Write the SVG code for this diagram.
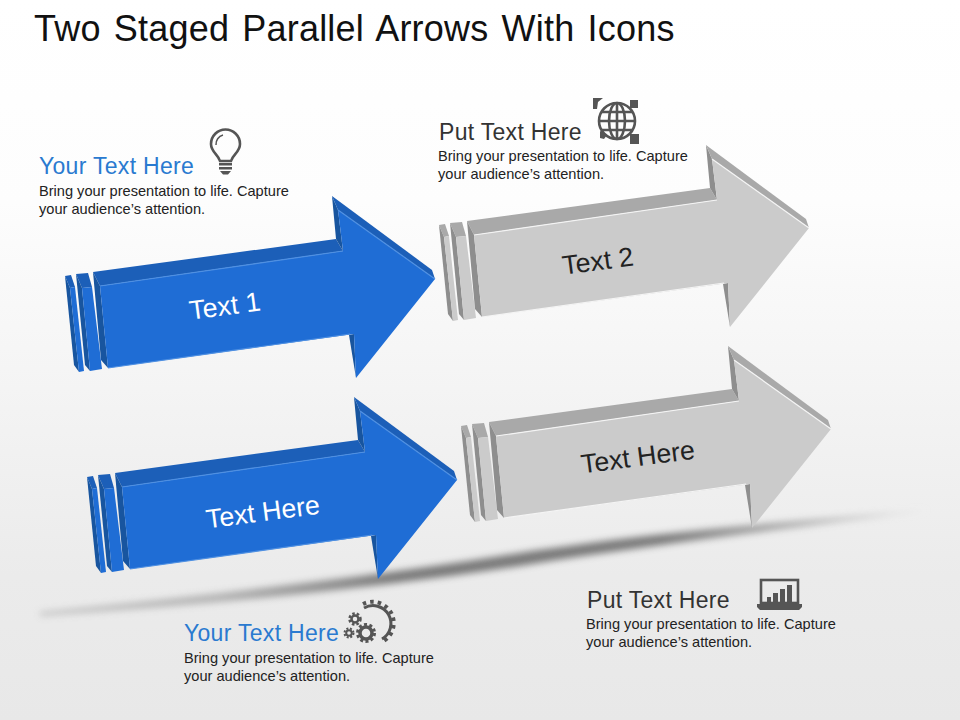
<svg xmlns="http://www.w3.org/2000/svg" width="960" height="720" viewBox="0 0 960 720">
<style>
text{font-family:"Liberation Sans",Arial,sans-serif}
.title{font-size:36px;fill:#111;letter-spacing:.2px;word-spacing:3px}
.h{font-size:23px;letter-spacing:.3px}
.blue{fill:#2a7ad0}
.dark{fill:#333}
.body{font-size:14.6px;fill:#222}
.lab{font-size:26.8px;text-anchor:middle}
.bl{--face:#1f6dd5;--top:#1c5fb8;--side:#18559f;--hi:#4f90e2}
.gr{--face:#cbcbcb;--top:#a9a9a9;--side:#8e8e8e;--hi:#f4f4f4}
.f{fill:var(--face)}.t{fill:var(--top)}.s{fill:var(--side)}
.e{fill:none;stroke:var(--hi);stroke-width:1.2}
.i{fill:none;stroke:#555;stroke-width:2.6}
.d{fill:#555}
</style>
<defs>
<linearGradient id="bg" x1="0" y1="0" x2="0" y2="1"><stop offset="0" stop-color="#fff"/><stop offset=".28" stop-color="#fdfdfd"/><stop offset=".8" stop-color="#ebebeb"/><stop offset="1" stop-color="#e8e8e8"/></linearGradient>
<linearGradient id="sh" x1="0" y1="0" x2="1" y2="0"><stop offset="0" stop-color="#bbb"/><stop offset=".2" stop-color="#aaa"/><stop offset=".4" stop-color="#666"/><stop offset=".7" stop-color="#666"/><stop offset=".9" stop-color="#bbb"/><stop offset="1" stop-color="#e4e4e4"/></linearGradient>
<filter id="blur" x="-5%" y="-100%" width="110%" height="300%"><feGaussianBlur stdDeviation="3.500"/></filter>
<g id="arrow">
<polygon class="t" points="65,276 71,275 75,287 70,288"/>
<polygon class="s" points="65,276 70,288 79,372 74,365"/>
<polygon class="f" points="70,288 75,287 84,371 79,372"/>
<polygon class="t" points="76,274 88,273 92,287 82,288"/>
<polygon class="s" points="76,274 82,288 90,371 85,365"/>
<polygon class="f" points="82,288 92,287 102,369 90,371"/>
<polygon class="t" points="93,272 336,239 343,251 100,286"/>
<polygon class="s" points="93,272 100,286 108,368 101,360"/>
<polygon class="s" points="332,196 338,210 343,251 336,239"/>
<polygon class="t" points="332,196 432,270 435,279 338,210"/>
<polygon class="s" points="349,335 354,334 356,378"/>
<polygon class="f" points="100,286 343,251 338,210 435,279 356,378 354,334 108,368"/>
<polyline class="e" points="100,286 343,251"/>
<polyline class="e" points="108,368 350,334"/>
<polyline class="e" points="338,210 435,279"/>
</g>
</defs>
<rect id="background" width="960" height="720" fill="url(#bg)"/>
<path id="shadow" d="M40 612C200 596 360 578 500 556C650 532 800 520 930 510C800 528 650 544 520 566C360 590 200 606 40 616Z" fill="url(#sh)" opacity=".85" filter="url(#blur)"/>
<text id="title" class="title" x="34" y="41">Two Staged Parallel Arrows With Icons</text>

<g id="arrow-1" class="bl"><use href="#arrow"/>
<text class="lab" fill="#fff" transform="translate(226 315) rotate(-7.500)">Text 1</text></g>
<g id="arrow-2" class="gr"><use href="#arrow" x="374" y="-51"/>
<text class="lab" fill="#222" transform="translate(599 270) rotate(-7.500)">Text 2</text></g>
<g id="arrow-3" class="bl"><use href="#arrow" x="22" y="201"/>
<text class="lab" fill="#fff" transform="translate(264 521) rotate(-7.500)">Text Here</text></g>
<g id="arrow-4" class="gr"><use href="#arrow" x="396" y="150"/>
<text class="lab" fill="#222" transform="translate(639 466) rotate(-7.500)">Text Here</text></g>

<g id="callout-1">
<text class="h blue" x="39" y="174">Your Text Here</text>
<text class="body" x="39" y="196">Bring your presentation to life. Capture</text>
<text class="body" x="39" y="214">your audience’s attention.</text>
<g id="icon-bulb">
<path class="i" d="M220 161C218 154 211 152 211 144A14.500 14.500 0 0 1 240 144C240 152 233 154 231 161Z"/>
<path class="i" style="stroke-width:1.500" d="M216 145A9.500 9.500 0 0 1 223 135"/>
<path class="d" d="M219 163h13v2.500h-13zM219 167h13v2.500h-13zM220 171h11l-3 3.500h-5z"/>
</g></g>

<g id="callout-2">
<text class="h dark" x="439" y="140">Put Text Here</text>
<text class="body" x="438" y="161">Bring your presentation to life. Capture</text>
<text class="body" x="438" y="179">your audience’s attention.</text>
<g id="icon-globe">
<circle class="i" cx="617" cy="121" r="18"/>
<ellipse class="i" cx="617" cy="121" rx="8" ry="18"/>
<path class="i" d="M617 103V139M599 121H635M602 112H632M602 130H632"/>
<path class="d" d="M593 98h10l-5 4-1 7h-4zM630 100h8v8h-8zM600 131l7 4-3 4-4-1zM630 134h9v10h-9z"/>
</g></g>

<g id="callout-3">
<text class="h blue" x="184" y="641">Your Text Here</text>
<text class="body" x="184" y="663">Bring your presentation to life. Capture</text>
<text class="body" x="184" y="681">your audience’s attention.</text>
<g id="icon-gears" fill="none" stroke="#555">
<path stroke-width="3" d="M364 608A16 16 0 1 1 382 639"/>
<path stroke-width="4" stroke-dasharray="3.500 4" d="M363 604A20 20 0 1 1 382 642"/>
<circle cx="366" cy="633" r="6" stroke-width="3.500"/>
<circle cx="366" cy="633" r="8.500" stroke-width="3" stroke-dasharray="3 2.400"/>
<circle cx="355" cy="619" r="3.500" stroke-width="2.500"/>
<circle cx="355" cy="619" r="5.500" stroke-width="2.500" stroke-dasharray="2.500 2"/>
<circle cx="349" cy="633" r="2.800" stroke-width="2"/>
<circle cx="349" cy="633" r="4.500" stroke-width="2" stroke-dasharray="2 1.600"/>
</g></g>

<g id="callout-4">
<text class="h dark" x="587" y="608">Put Text Here</text>
<text class="body" x="586" y="629">Bring your presentation to life. Capture</text>
<text class="body" x="586" y="647">your audience’s attention.</text>
<g id="icon-laptop">
<rect class="i" x="761" y="580" width="37" height="23"/>
<path class="d" d="M757 604H802V607L799 610H760L757 607ZM767 597h4v5h-4zM773 593h5v9h-5zM780 589h5v13h-5zM787 585h5v17h-5z"/>
</g></g>
</svg>
